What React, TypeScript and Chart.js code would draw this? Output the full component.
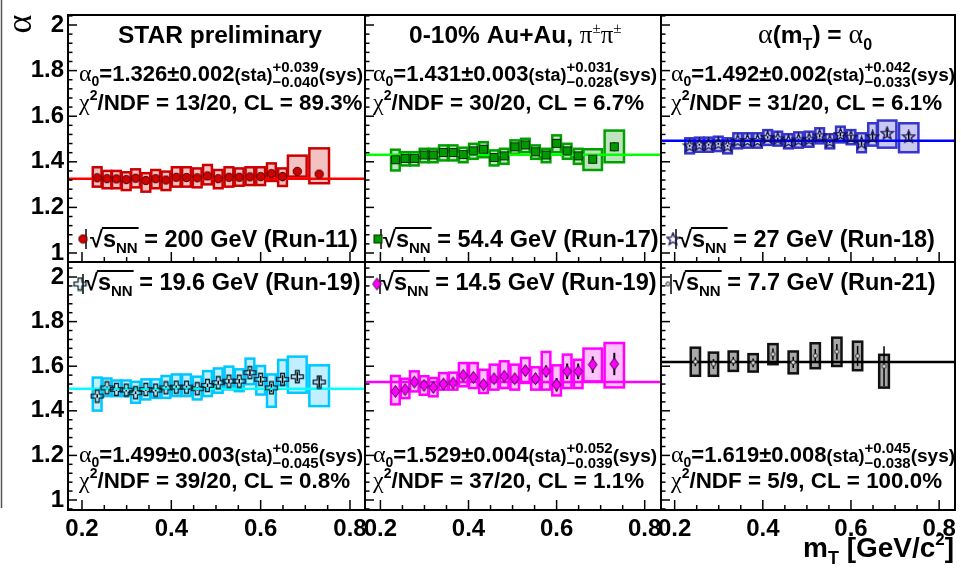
import { useEffect, useRef } from 'react';
import { Chart, registerables } from 'chart.js';

Chart.register(...registerables);

const W = 961;
const H = 570;

// ---------------- data ----------------
const mT = [0.234, 0.256, 0.277, 0.299, 0.320, 0.343, 0.365, 0.388, 0.411, 0.434, 0.458, 0.481, 0.505, 0.529, 0.552, 0.576, 0.600, 0.624, 0.649, 0.682, 0.731];
const binHalf = [0.0098, 0.0098, 0.0098, 0.0098, 0.0098, 0.0098, 0.0098, 0.0098, 0.0098, 0.0098, 0.0098, 0.0098, 0.0098, 0.0098, 0.0098, 0.0098, 0.0098, 0.0098, 0.0098, 0.021, 0.022];
const mT77 = [0.247, 0.288, 0.333, 0.378, 0.423, 0.469, 0.519, 0.568, 0.615, 0.675];
const binHalf77 = [0.0105, 0.0105, 0.0105, 0.0105, 0.0105, 0.0105, 0.0105, 0.0105, 0.0105, 0.011];

const alpha200 = [1.330, 1.326, 1.325, 1.322, 1.328, 1.318, 1.326, 1.320, 1.332, 1.331, 1.330, 1.338, 1.326, 1.332, 1.332, 1.334, 1.335, 1.348, 1.335, 1.358, 1.346];
const stat200 = [0.004, 0.004, 0.004, 0.004, 0.004, 0.004, 0.004, 0.004, 0.004, 0.004, 0.005, 0.005, 0.005, 0.005, 0.006, 0.006, 0.007, 0.008, 0.020, 0.012, 0.014];
const sysUp200 = [1.376, 1.360, 1.360, 1.354, 1.367, 1.350, 1.364, 1.357, 1.376, 1.376, 1.371, 1.386, 1.364, 1.376, 1.371, 1.376, 1.376, 1.393, 1.371, 1.427, 1.459];
const sysDn200 = [1.291, 1.284, 1.284, 1.276, 1.288, 1.269, 1.284, 1.276, 1.291, 1.291, 1.288, 1.301, 1.284, 1.291, 1.295, 1.298, 1.298, 1.316, 1.294, 1.335, 1.306];

const alpha54 = [1.409, 1.415, 1.415, 1.430, 1.430, 1.441, 1.441, 1.432, 1.448, 1.455, 1.419, 1.426, 1.466, 1.474, 1.444, 1.430, 1.481, 1.448, 1.426, 1.411, 1.466];
const stat54 = [0.006, 0.005, 0.005, 0.005, 0.005, 0.005, 0.005, 0.005, 0.006, 0.006, 0.006, 0.007, 0.008, 0.009, 0.010, 0.012, 0.014, 0.014, 0.016, 0.018, 0.020];
const sysUp54 = [1.453, 1.442, 1.442, 1.457, 1.457, 1.472, 1.472, 1.462, 1.479, 1.486, 1.450, 1.457, 1.494, 1.501, 1.472, 1.457, 1.516, 1.479, 1.457, 1.455, 1.537];
const sysDn54 = [1.362, 1.384, 1.384, 1.398, 1.398, 1.406, 1.406, 1.398, 1.413, 1.420, 1.384, 1.391, 1.435, 1.442, 1.413, 1.398, 1.442, 1.413, 1.391, 1.364, 1.398];

const alpha27 = [1.470, 1.475, 1.475, 1.479, 1.470, 1.492, 1.493, 1.493, 1.507, 1.501, 1.490, 1.496, 1.499, 1.514, 1.490, 1.520, 1.508, 1.483, 1.510, 1.525, 1.510];
const stat27 = [0.004, 0.004, 0.004, 0.004, 0.004, 0.004, 0.004, 0.005, 0.005, 0.005, 0.005, 0.006, 0.006, 0.007, 0.008, 0.009, 0.010, 0.012, 0.015, 0.014, 0.016];
const sysUp27 = [1.503, 1.506, 1.506, 1.510, 1.503, 1.525, 1.525, 1.525, 1.539, 1.532, 1.521, 1.529, 1.532, 1.547, 1.521, 1.554, 1.539, 1.525, 1.569, 1.581, 1.569];
const sysDn27 = [1.437, 1.444, 1.444, 1.447, 1.437, 1.459, 1.462, 1.462, 1.474, 1.471, 1.459, 1.462, 1.466, 1.481, 1.459, 1.485, 1.477, 1.442, 1.471, 1.462, 1.442];

const alpha19 = [1.466, 1.503, 1.496, 1.493, 1.481, 1.496, 1.493, 1.503, 1.506, 1.506, 1.499, 1.514, 1.526, 1.533, 1.533, 1.571, 1.541, 1.503, 1.541, 1.553, 1.529];
const stat19 = [0.008, 0.006, 0.006, 0.006, 0.006, 0.006, 0.006, 0.007, 0.007, 0.007, 0.008, 0.008, 0.009, 0.010, 0.010, 0.015, 0.015, 0.018, 0.018, 0.020, 0.025];
const sysUp19 = [1.549, 1.545, 1.536, 1.536, 1.530, 1.541, 1.541, 1.556, 1.563, 1.563, 1.553, 1.578, 1.590, 1.598, 1.586, 1.634, 1.601, 1.563, 1.628, 1.643, 1.604];
const sysDn19 = [1.401, 1.466, 1.466, 1.466, 1.436, 1.451, 1.458, 1.458, 1.466, 1.466, 1.451, 1.466, 1.481, 1.496, 1.488, 1.519, 1.473, 1.418, 1.514, 1.481, 1.421];

const alpha14 = [1.487, 1.495, 1.529, 1.514, 1.505, 1.520, 1.525, 1.559, 1.550, 1.517, 1.544, 1.555, 1.544, 1.580, 1.544, 1.577, 1.517, 1.577, 1.577, 1.607, 1.610];
const stat14 = [0.012, 0.012, 0.012, 0.012, 0.012, 0.014, 0.014, 0.015, 0.016, 0.016, 0.018, 0.020, 0.020, 0.022, 0.024, 0.026, 0.030, 0.035, 0.035, 0.037, 0.050];
const sysUp14 = [1.556, 1.544, 1.577, 1.555, 1.547, 1.569, 1.571, 1.614, 1.614, 1.584, 1.607, 1.622, 1.607, 1.637, 1.595, 1.664, 1.604, 1.652, 1.629, 1.679, 1.704];
const sysDn14 = [1.429, 1.457, 1.487, 1.472, 1.465, 1.495, 1.495, 1.510, 1.502, 1.480, 1.495, 1.502, 1.495, 1.525, 1.495, 1.495, 1.469, 1.502, 1.502, 1.532, 1.505];

const alpha7 = [1.620, 1.610, 1.622, 1.615, 1.654, 1.617, 1.647, 1.665, 1.646, 1.600];
const stat7 = [0.020, 0.022, 0.020, 0.020, 0.025, 0.025, 0.030, 0.035, 0.045, 0.090];
const sysUp7 = [1.683, 1.661, 1.666, 1.654, 1.699, 1.666, 1.703, 1.728, 1.710, 1.651];
const sysDn7 = [1.557, 1.557, 1.579, 1.576, 1.609, 1.568, 1.591, 1.601, 1.582, 1.504];

const fitAlpha = [1.326, 1.431, 1.492, 1.499, 1.529, 1.619];
const alpha0Val = ['1.326', '1.431', '1.492', '1.499', '1.529', '1.619'];
const alpha0Sta = ['0.002', '0.003', '0.002', '0.003', '0.004', '0.008'];
const sysPlus = ['0.039', '0.031', '0.042', '0.056', '0.052', '0.045'];
const sysMinus = ['0.040', '0.028', '0.033', '0.045', '0.039', '0.038'];
const chi2Ndf = ['13/20', '30/20', '31/20', '39/20', '37/20', '5/9'];
const clVal = ['89.3%', '6.7%', '6.1%', '0.8%', '1.1%', '100.0%'];
const energies = ['200', '54.4', '27', '19.6', '14.5', '7.7'];
const runs = ['Run-11', 'Run-17', 'Run-18', 'Run-19', 'Run-19', 'Run-21'];

const yTickValues = [1, 1.2, 1.4, 1.6, 1.8, 2];
const yTickLabels = ['1', '1.2', '1.4', '1.6', '1.8', '2'];
const yMinorTicks = [0.96, 1.04, 1.08, 1.12, 1.16, 1.24, 1.28, 1.32, 1.36, 1.44, 1.48, 1.52, 1.56, 1.64, 1.68, 1.72, 1.76, 1.84, 1.88, 1.92, 1.96, 2.04];
const xTickValues = [0.2, 0.4, 0.6, 0.8];
const xTickLabels = ['0.2', '0.4', '0.6', '0.8'];
const xMinorTicks = [0.25, 0.3, 0.35, 0.45, 0.5, 0.55, 0.65, 0.7, 0.75];

// ---------------- styling ----------------
const SANS = '"Liberation Sans", Arial, Helvetica, sans-serif';
const SERIF = '"Liberation Serif", "Times New Roman", serif';
const bf = (px: number) => `bold ${px}px ${SANS}`;
const gf = (px: number) => `${px}px ${SERIF}`;

type Seg = { t?: string; f: string; dy?: number; sup?: string; sub?: string; supDy?: number; subDy?: number };

function drawRich(ctx: CanvasRenderingContext2D, x: number, y: number, segs: Seg[]) {
  ctx.save();
  ctx.fillStyle = '#000';
  ctx.textAlign = 'left';
  ctx.textBaseline = 'alphabetic';
  for (const s of segs) {
    ctx.font = s.f;
    if (s.sup !== undefined) {
      ctx.fillText(s.sup, x, y + (s.supDy || 0));
      ctx.fillText(s.sub || '', x, y + (s.subDy || 0));
      x += Math.max(ctx.measureText(s.sup).width, ctx.measureText(s.sub || '').width);
    } else {
      ctx.fillText(s.t || '', x, y + (s.dy || 0));
      x += ctx.measureText(s.t || '').width;
    }
  }
  ctx.restore();
  return x;
}

function mkCanvas(w: number, h: number, draw: (c: CanvasRenderingContext2D) => void) {
  const c = document.createElement('canvas');
  c.width = w;
  c.height = h;
  const ctx = c.getContext('2d')!;
  draw(ctx);
  return c;
}

function buildMarkers() {
  const circle = mkCanvas(11, 11, (c) => {
    c.beginPath(); c.arc(5.5, 5.5, 4.2, 0, Math.PI * 2);
    c.fillStyle = '#d00000'; c.fill(); c.lineWidth = 1; c.strokeStyle = '#4a0000'; c.stroke();
  });
  const square = mkCanvas(11, 11, (c) => {
    c.fillStyle = '#009a00'; c.fillRect(1.5, 1.5, 8, 8);
    c.lineWidth = 1; c.strokeStyle = '#002a00'; c.strokeRect(1.5, 1.5, 8, 8);
  });
  const star = mkCanvas(15, 15, (c) => {
    c.beginPath();
    for (let k = 0; k < 10; k++) {
      const r = k % 2 === 0 ? 6.5 : 2.7;
      const a = -Math.PI / 2 + (k * Math.PI) / 5;
      const px = 7.5 + r * Math.cos(a);
      const py = 7.8 + r * Math.sin(a);
      if (k === 0) c.moveTo(px, py); else c.lineTo(px, py);
    }
    c.closePath();
    c.lineWidth = 1.3; c.strokeStyle = '#10104a'; c.stroke();
  });
  const cross = mkCanvas(15, 15, (c) => {
    const m = 7.5, t = 1.9, l = 6;
    c.beginPath();
    c.moveTo(m - t, m - l); c.lineTo(m + t, m - l); c.lineTo(m + t, m - t); c.lineTo(m + l, m - t);
    c.lineTo(m + l, m + t); c.lineTo(m + t, m + t); c.lineTo(m + t, m + l); c.lineTo(m - t, m + l);
    c.lineTo(m - t, m + t); c.lineTo(m - l, m + t); c.lineTo(m - l, m - t); c.lineTo(m - t, m - t);
    c.closePath();
    c.lineWidth = 1.3; c.strokeStyle = '#00202c'; c.stroke();
  });
  const diamond = mkCanvas(11, 15, (c) => {
    c.beginPath(); c.moveTo(5.5, 1.5); c.lineTo(9.8, 7.5); c.lineTo(5.5, 13.5); c.lineTo(1.2, 7.5); c.closePath();
    c.fillStyle = '#ff00ff'; c.fill(); c.lineWidth = 1; c.strokeStyle = '#3a003a'; c.stroke();
  });
  const small = mkCanvas(7, 7, (c) => {
    c.beginPath(); c.arc(3.5, 3.5, 2, 0, Math.PI * 2);
    c.fillStyle = '#e0e0e0'; c.fill(); c.lineWidth = 1; c.strokeStyle = '#222'; c.stroke();
  });
  return { circle, square, star, cross, diamond, small };
}

type Markers = ReturnType<typeof buildMarkers>;

type Panel = {
  idx: number;
  x: number[]; half: number[]; y: number[]; stat: number[]; up: number[]; dn: number[];
  area: [number, number, number, number];
  xr: [number, number]; yr: [number, number];
  showX: boolean; showY: boolean;
  boxStroke: string; boxFill: string; fitColor: string; barWidth: number;
  marker: keyof Markers;
  top: boolean;
  title?: Seg[]; titleX?: number;
  textX: number; legendX: number; iconX: number;
};

const TOP_Y: [number, number] = [0.9605, 2.0439];
const BOT_Y: [number, number] = [0.9552, 2.0673];
const COL_X: [number, number][] = [[0.1687, 0.8336], [0.165, 0.837], [0.169, 0.836]];

const panels: Panel[] = [
  { idx: 0, x: mT, half: binHalf, y: alpha200, stat: stat200, up: sysUp200, dn: sysDn200, area: [68, 15, 365, 262], xr: COL_X[0], yr: TOP_Y, showX: false, showY: true, boxStroke: '#cc0000', boxFill: '#f2c2c2', fitColor: '#ff0000', barWidth: 1.5, marker: 'circle', top: true,
    title: [{ t: 'STAR preliminary', f: bf(24.5) }], titleX: 118, textX: 79, legendX: 90, iconX: 83 },
  { idx: 1, x: mT, half: binHalf, y: alpha54, stat: stat54, up: sysUp54, dn: sysDn54, area: [365, 15, 661, 262], xr: COL_X[1], yr: TOP_Y, showX: false, showY: false, boxStroke: '#00a000', boxFill: '#bfe3bf', fitColor: '#00ff00', barWidth: 1.5, marker: 'square', top: true,
    title: [{ t: '0-10% Au+Au, ', f: bf(24.5) }, { t: 'π', f: gf(25) }, { t: '±', f: gf(15), dy: -10 }, { t: 'π', f: gf(25) }, { t: '±', f: gf(15), dy: -10 }], titleX: 409, textX: 373, legendX: 383, iconX: 378 },
  { idx: 2, x: mT, half: binHalf, y: alpha27, stat: stat27, up: sysUp27, dn: sysDn27, area: [661, 15, 959, 262], xr: COL_X[2], yr: TOP_Y, showX: false, showY: false, boxStroke: '#3636cc', boxFill: '#c9c9f2', fitColor: '#0000ff', barWidth: 1.5, marker: 'star', top: true,
    title: [{ t: 'α', f: gf(28) }, { t: '(m', f: bf(24.5) }, { t: 'T', f: bf(16), dy: 7 }, { t: ') = ', f: bf(24.5) }, { t: 'α', f: gf(28) }, { t: '0', f: bf(16), dy: 7 }], titleX: 758, textX: 671, legendX: 679, iconX: 673 },
  { idx: 3, x: mT, half: binHalf, y: alpha19, stat: stat19, up: sysUp19, dn: sysDn19, area: [68, 262, 365, 510], xr: COL_X[0], yr: BOT_Y, showX: true, showY: true, boxStroke: '#00c8ff', boxFill: '#c2efff', fitColor: '#00ffff', barWidth: 1.5, marker: 'cross', top: false,
    textX: 79, legendX: 85, iconX: 80 },
  { idx: 4, x: mT, half: binHalf, y: alpha14, stat: stat14, up: sysUp14, dn: sysDn14, area: [365, 262, 661, 510], xr: COL_X[1], yr: BOT_Y, showX: true, showY: false, boxStroke: '#ff00ff', boxFill: '#ffc2ff', fitColor: '#ff00ff', barWidth: 2, marker: 'diamond', top: false,
    textX: 373, legendX: 381, iconX: 377 },
  { idx: 5, x: mT77, half: binHalf77, y: alpha7, stat: stat7, up: sysUp7, dn: sysDn7, area: [661, 262, 959, 510], xr: COL_X[2], yr: BOT_Y, showX: true, showY: false, boxStroke: '#111111', boxFill: '#a8a8a8', fitColor: '#000000', barWidth: 1.5, marker: 'small', top: false,
    textX: 671, legendX: 673, iconX: 668 },
];

function decorPlugin(p: Panel, mk: Markers) {
  return {
    id: 'decor' + p.idx,
    beforeDatasetsDraw(chart: any) {
      const { ctx, chartArea: a, scales } = chart;
      const xs = scales.x, ys = scales.y;
      ctx.save();
      ctx.beginPath();
      ctx.rect(a.left, a.top, a.right - a.left, a.bottom - a.top);
      ctx.clip();
      ctx.lineWidth = 2.5;
      p.x.forEach((xv, i) => {
        const x0 = xs.getPixelForValue(xv - p.half[i]);
        const x1 = xs.getPixelForValue(xv + p.half[i]);
        const y0 = ys.getPixelForValue(p.up[i]);
        const y1 = ys.getPixelForValue(p.dn[i]);
        ctx.fillStyle = p.boxFill;
        ctx.fillRect(x0, y0, x1 - x0, y1 - y0);
        ctx.strokeStyle = p.boxStroke;
        ctx.strokeRect(x0, y0, x1 - x0, y1 - y0);
      });
      ctx.strokeStyle = '#000';
      ctx.lineWidth = p.barWidth;
      p.x.forEach((xv, i) => {
        const px = xs.getPixelForValue(xv);
        ctx.beginPath();
        ctx.moveTo(px, ys.getPixelForValue(p.y[i] - p.stat[i]));
        ctx.lineTo(px, ys.getPixelForValue(p.y[i] + p.stat[i]));
        ctx.stroke();
      });
      ctx.restore();
    },
    afterDraw(chart: any) {
      const { ctx, chartArea: a, scales } = chart;
      const xs = scales.x, ys = scales.y;
      ctx.save();
      ctx.strokeStyle = '#000';
      ctx.lineWidth = 1.5;
      const hline = (v: number, len: number) => {
        const py = ys.getPixelForValue(v);
        if (py < a.top || py > a.bottom) return;
        ctx.beginPath(); ctx.moveTo(a.left, py); ctx.lineTo(a.left + len, py); ctx.stroke();
      };
      const vline = (v: number, len: number) => {
        const px = xs.getPixelForValue(v);
        if (px < a.left || px > a.right) return;
        ctx.beginPath(); ctx.moveTo(px, a.bottom); ctx.lineTo(px, a.bottom - len); ctx.stroke();
      };
      yTickValues.forEach((v) => hline(v, 9));
      yMinorTicks.forEach((v) => hline(v, 4.5));
      xTickValues.forEach((v) => vline(v, 10));
      xMinorTicks.forEach((v) => vline(v, 5));
      ctx.lineWidth = 2;
      ctx.strokeRect(a.left, a.top, a.right - a.left, a.bottom - a.top);
      ctx.restore();

      const i = p.idx;
      const yA0 = p.top ? 81 : 462;
      const yChi = p.top ? 110 : 488;
      const yLeg = p.top ? 247 : 290;
      const yIcon = p.top ? 239 : 284;

      if (p.title && p.titleX !== undefined) drawRich(ctx, p.titleX, 43, p.title);

      drawRich(ctx, p.textX, yA0, [
        { t: 'α', f: gf(24) },
        { t: '0', f: bf(14), dy: 5 },
        { t: '=' + alpha0Val[i] + '±' + alpha0Sta[i], f: bf(22) },
        { t: '(sta)', f: bf(18) },
        { sup: '+' + sysPlus[i], sub: '−' + sysMinus[i], f: bf(15), supDy: -9, subDy: 6 },
        { t: '(sys)', f: bf(19) },
      ]);
      drawRich(ctx, p.textX, yChi, [
        { t: 'χ', f: gf(24) },
        { t: '2', f: bf(14), dy: -10 },
        { t: '/NDF = ' + chi2Ndf[i] + ', CL = ' + clVal[i], f: bf(22.4) },
      ]);

      ctx.save();
      ctx.strokeStyle = '#000';
      ctx.lineWidth = 1.5;
      const bx = p.iconX + 3;
      ctx.beginPath(); ctx.moveTo(bx, yIcon - 10); ctx.lineTo(bx, yIcon + 10); ctx.stroke();
      const m = mk[p.marker];
      ctx.drawImage(m, p.iconX - m.width / 2, yIcon - m.height / 2);
      ctx.fillStyle = '#000';
      ctx.textBaseline = 'alphabetic';
      ctx.font = bf(23.5);
      let x = p.legendX;
      ctx.fillText('√', x, yLeg);
      x += ctx.measureText('√').width;
      const xo = x;
      ctx.fillText('s', x, yLeg);
      x += ctx.measureText('s').width;
      ctx.font = bf(15);
      ctx.fillText('NN', x, yLeg + 6);
      x += ctx.measureText('NN').width;
      ctx.lineWidth = 2;
      ctx.beginPath(); ctx.moveTo(xo - 1, yLeg - 19); ctx.lineTo(x + 1, yLeg - 19); ctx.stroke();
      ctx.font = bf(23.5);
      ctx.fillText(' = ' + energies[i] + ' GeV (' + runs[i] + ')', x, yLeg);
      ctx.restore();

      if (i === 0) {
        ctx.save();
        ctx.fillStyle = '#000';
        ctx.translate(22, 24);
        ctx.rotate(-Math.PI / 2);
        ctx.font = gf(36);
        ctx.textAlign = 'center';
        ctx.textBaseline = 'middle';
        ctx.fillText('α', 0, 0);
        ctx.restore();
        ctx.save();
        ctx.strokeStyle = '#555';
        ctx.lineWidth = 1.5;
        ctx.beginPath(); ctx.moveTo(1.5, 0); ctx.lineTo(1.5, 508); ctx.stroke();
        ctx.restore();
      }
      if (i === 5) {
        drawRich(ctx, 803, 557, [
          { t: 'm', f: bf(28) },
          { t: 'T', f: bf(18), dy: 7 },
          { t: ' [GeV/c', f: bf(28) },
          { t: '2', f: bf(17), dy: -12 },
          { t: ']', f: bf(28) },
        ]);
      }
    },
  };
}

function makeChart(canvas: HTMLCanvasElement, p: Panel, mk: Markers) {
  const tickFont = { family: SANS, size: 24, weight: 'bold' as const };
  const yW = p.showY ? p.area[0] : 0;
  const xH = p.showX ? H - p.area[3] : 0;
  return new Chart(canvas, {
    type: 'scatter',
    data: {
      datasets: [
        {
          type: 'scatter',
          data: p.x.map((xv, i) => ({ x: xv, y: p.y[i] })),
          pointStyle: mk[p.marker] as any,
          pointRadius: 5,
          order: 0,
        },
        {
          type: 'line',
          data: [{ x: p.xr[0], y: fitAlpha[p.idx] }, { x: p.xr[1], y: fitAlpha[p.idx] }],
          borderColor: p.fitColor,
          borderWidth: 2.5,
          pointRadius: 0,
          order: 1,
        } as any,
      ],
    },
    options: {
      animation: false,
      responsive: false,
      devicePixelRatio: 1,
      events: [],
      layout: { padding: { left: p.area[0] - yW, top: p.area[1], right: W - p.area[2], bottom: H - p.area[3] - xH } },
      plugins: { legend: { display: false }, tooltip: { enabled: false }, title: { display: false } },
      scales: {
        x: {
          type: 'linear',
          position: 'bottom',
          min: p.xr[0],
          max: p.xr[1],
          grid: { display: false, drawTicks: false },
          border: { display: false },
          ticks: {
            display: p.showX,
            font: tickFont,
            color: '#000',
            padding: 5,
            autoSkip: false,
            maxRotation: 0,
            callback: (_v: any, i: number) => xTickLabels[i],
          },
          afterBuildTicks: (s: any) => { s.ticks = xTickValues.map((v) => ({ value: v })); },
          afterFit: (s: any) => { s.height = xH; s.paddingLeft = 0; s.paddingRight = 0; s.paddingTop = 0; s.paddingBottom = 0; },
        },
        y: {
          type: 'linear',
          position: 'left',
          min: p.yr[0],
          max: p.yr[1],
          grid: { display: false, drawTicks: false },
          border: { display: false },
          ticks: {
            display: p.showY,
            font: tickFont,
            color: '#000',
            padding: 4,
            autoSkip: false,
            callback: (_v: any, i: number) => yTickLabels[i],
          },
          afterBuildTicks: (s: any) => { s.ticks = yTickValues.map((v) => ({ value: v })); },
          afterFit: (s: any) => { s.width = yW; s.paddingLeft = 0; s.paddingRight = 0; s.paddingTop = 0; s.paddingBottom = 0; },
        },
      },
    } as any,
    plugins: [decorPlugin(p, mk)],
  });
}

export default function App() {
  const refs = useRef<(HTMLCanvasElement | null)[]>([]);
  useEffect(() => {
    const mk = buildMarkers();
    const charts = panels.map((p, i) => makeChart(refs.current[i] as HTMLCanvasElement, p, mk));
    return () => charts.forEach((c) => c.destroy());
  }, []);
  return (
    <div style={{ position: 'fixed', left: 0, top: 0, width: W, height: H, background: '#fff', overflow: 'hidden' }}>
      {panels.map((p, i) => (
        <canvas
          key={p.idx}
          ref={(el) => { refs.current[i] = el; }}
          width={W}
          height={H}
          style={{ position: 'absolute', left: 0, top: 0, width: W, height: H, pointerEvents: 'none' }}
        />
      ))}
    </div>
  );
}
